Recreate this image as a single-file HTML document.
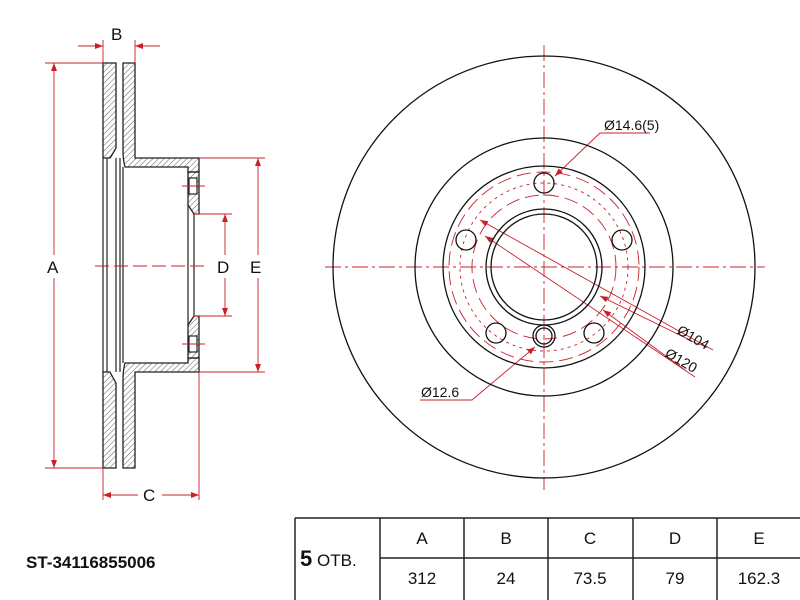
<!DOCTYPE html>
<html><head><meta charset="utf-8"><style>
body{margin:0;background:#fff;}
svg{display:block;font-family:"Liberation Sans",sans-serif;}
</style></head><body>
<svg width="800" height="600" viewBox="0 0 800 600" xmlns="http://www.w3.org/2000/svg">
<defs>
<pattern id="h" width="4" height="4" patternUnits="userSpaceOnUse" patternTransform="rotate(45)">
<line x1="0" y1="0" x2="0" y2="4" stroke="#333" stroke-width="0.8"/>
</pattern>
<marker id="a" markerWidth="8" markerHeight="6" refX="8" refY="3" orient="auto-start-reverse" markerUnits="userSpaceOnUse">
<path d="M0,0 L8,3 L0,6 z" fill="#c8202a"/>
</marker>
</defs>
<g stroke="#222" stroke-width="1.3" fill="url(#h)">
<!-- plates top -->
<path d="M103,63 L116,63 L116,148 Q112,155 110,158 L103,158 Z"/>
<path d="M123,63 L135,63 L135,158 L199,158 L199,172 L188,172 L188,167 L125,167 Q123,160 123,150 Z"/>
<path d="M103,468 L116,468 L116,383 Q112,376 110,372 L103,372 Z"/>
<path d="M123,468 L135,468 L135,372 L199,372 L199,358 L188,358 L188,363 L125,363 Q123,370 123,380 Z"/>
<path d="M188,172 L199,172 L199,214 L194,214 L188,205 Z"/>
<path d="M188,358 L199,358 L199,316 L194,316 L188,325 Z"/>
</g>
<g stroke="#222" stroke-width="1.2" fill="none">
<line x1="103" y1="158" x2="103" y2="372"/>
<line x1="107" y1="158" x2="107" y2="372"/>
<line x1="116" y1="158" x2="116" y2="372"/>
<line x1="120" y1="158" x2="120" y2="372"/>
<line x1="123" y1="167" x2="123" y2="363"/>
<line x1="194" y1="214" x2="194" y2="316"/>
<line x1="188" y1="205" x2="188" y2="325"/>
<rect x="189" y="178" width="8" height="16" fill="#fff"/>
<rect x="189" y="336" width="8" height="16" fill="#fff"/>
</g>
<g stroke="#c8202a" stroke-width="0.9" fill="none">
<line x1="95" y1="266" x2="205" y2="266" stroke-dasharray="14,5"/>
<line x1="182" y1="186" x2="205" y2="186"/><line x1="182" y1="344" x2="205" y2="344"/>
<line x1="45" y1="63" x2="103" y2="63"/><line x1="45" y1="468" x2="103" y2="468"/>
<line x1="54" y1="63" x2="54" y2="255" marker-start="url(#a)"/><line x1="54" y1="278" x2="54" y2="468" marker-end="url(#a)"/>
<line x1="103" y1="40" x2="103" y2="63"/><line x1="135" y1="40" x2="135" y2="63"/>
<line x1="78" y1="46" x2="103" y2="46" marker-end="url(#a)"/><line x1="160" y1="46" x2="135" y2="46" marker-end="url(#a)"/>
<line x1="103" y1="468" x2="103" y2="500"/><line x1="199" y1="372" x2="199" y2="500"/>
<line x1="103" y1="495" x2="138" y2="495" marker-start="url(#a)"/><line x1="162" y1="495" x2="199" y2="495" marker-end="url(#a)"/>
<line x1="199" y1="158" x2="265" y2="158"/><line x1="199" y1="372" x2="265" y2="372"/>
<line x1="258" y1="158" x2="258" y2="255" marker-start="url(#a)"/><line x1="258" y1="278" x2="258" y2="372" marker-end="url(#a)"/>
<line x1="194" y1="214" x2="232" y2="214"/><line x1="194" y1="316" x2="232" y2="316"/>
<line x1="225" y1="214" x2="225" y2="255" marker-start="url(#a)"/><line x1="225" y1="278" x2="225" y2="316" marker-end="url(#a)"/>
</g>
<g font-size="17" fill="#111">
<text x="111" y="40">B</text><text x="47" y="273">A</text><text x="143" y="501">C</text>
<text x="217" y="273">D</text><text x="250" y="273">E</text>
</g>
<!-- front view -->
<g stroke="#c8202a" stroke-width="0.9" fill="none">
<line x1="325" y1="267" x2="765" y2="267" stroke-dasharray="16,4,3,4"/>
<line x1="544" y1="45" x2="544" y2="490" stroke-dasharray="16,4,3,4"/>
<circle cx="544" cy="267" r="72" stroke-dasharray="14,6"/>
<circle cx="544" cy="267" r="84" stroke-dasharray="3,4"/>
<circle cx="544" cy="267" r="95" stroke-dasharray="14,6"/>
<line x1="480" y1="220" x2="713" y2="350" marker-start="url(#a)"/>
<line x1="485" y1="236" x2="695" y2="377" marker-start="url(#a)"/>
<path d="M700,345 L600,296" marker-end="url(#a)"/>
<path d="M685,370 L603,310" marker-end="url(#a)"/>
<path d="M650,133 L600,133 L555,176" marker-end="url(#a)"/>
<path d="M420,400 L472,400 L535,347" marker-end="url(#a)"/>
</g>
<g stroke="#111" stroke-width="1.3" fill="none">
<circle cx="544" cy="267" r="211"/>
<circle cx="544" cy="267" r="129"/>
<circle cx="544" cy="267" r="101"/>
<circle cx="544" cy="267" r="58"/>
<circle cx="544" cy="267" r="53"/>
<circle cx="544" cy="183" r="10"/>
<circle cx="466" cy="240" r="10"/>
<circle cx="622" cy="240" r="10"/>
<circle cx="496" cy="333" r="10"/>
<circle cx="594" cy="333" r="10"/>
<circle cx="544" cy="336" r="11"/>
<circle cx="544" cy="336" r="8"/>
</g>
<g font-size="14" fill="#111">
<text x="604" y="130">Ø14.6(5)</text>
<text x="421" y="397">Ø12.6</text>
<text x="676" y="333" transform="rotate(30 676 333)">Ø104</text>
<text x="664" y="356" transform="rotate(30 664 356)">Ø120</text>
</g>
<!-- table -->
<g stroke="#222" stroke-width="1.5" fill="none">
<line x1="295" y1="518" x2="800" y2="518"/>
<line x1="295" y1="518" x2="295" y2="600"/>
<line x1="380" y1="558" x2="800" y2="558"/>
<line x1="380" y1="518" x2="380" y2="600"/>
<line x1="464" y1="518" x2="464" y2="600"/>
<line x1="548" y1="518" x2="548" y2="600"/>
<line x1="633" y1="518" x2="633" y2="600"/>
<line x1="717" y1="518" x2="717" y2="600"/>
</g>
<g font-size="17" fill="#111" text-anchor="middle">
<text x="422" y="544">A</text><text x="506" y="544">B</text><text x="590" y="544">C</text><text x="675" y="544">D</text><text x="759" y="544">E</text>
<text x="422" y="584">312</text><text x="506" y="584">24</text><text x="590" y="584">73.5</text><text x="675" y="584">79</text><text x="759" y="584">162.3</text>
</g>
<text x="300" y="566" font-size="22" font-weight="bold" fill="#111">5</text>
<text x="317" y="566" font-size="17" fill="#111">ОТВ.</text>
<text x="26" y="568" font-size="17" font-weight="bold" fill="#111">ST-34116855006</text>
</svg>
</body></html>
